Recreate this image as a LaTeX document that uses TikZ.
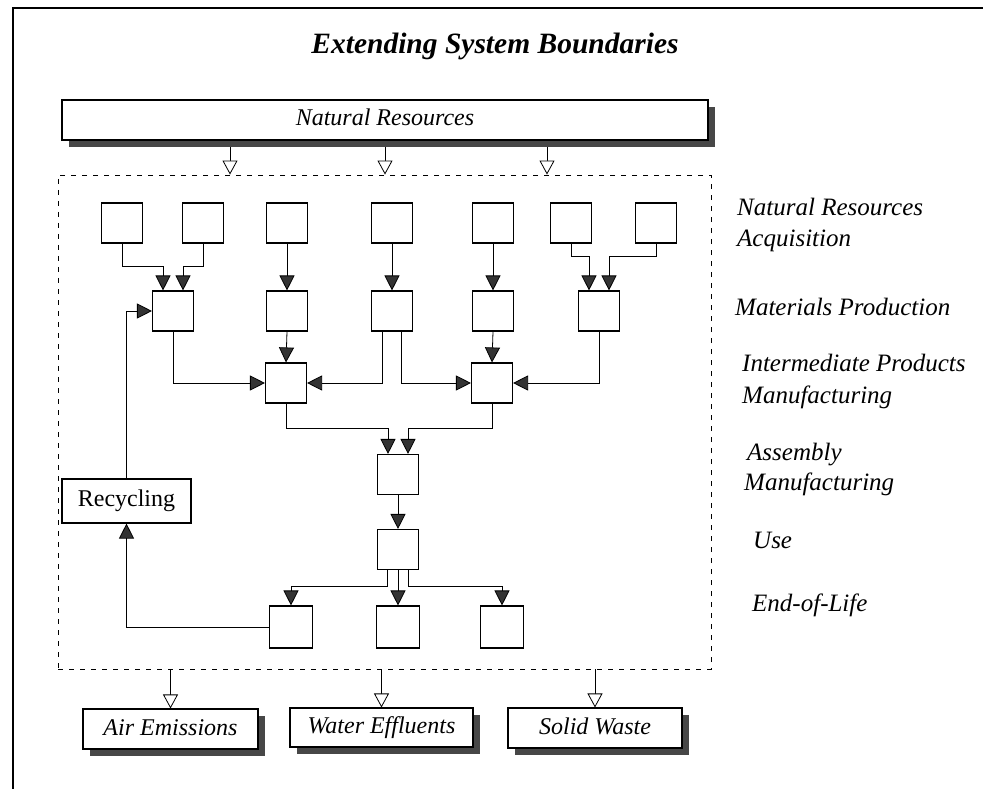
\documentclass[tikz,border=0pt]{standalone}
\usepackage{fontspec}
\setmainfont{Liberation Serif}
\usetikzlibrary{arrows.meta,shadows}
\begin{document}
\begin{tikzpicture}[x=1pt,y=-1pt,
  box/.style={draw, line width=1.1pt, minimum width=41pt, minimum height=40pt, inner sep=0pt, fill=white},
  ebox/.style={box, minimum width=43pt, minimum height=42pt},
  shbox/.style={draw, line width=1.1pt, fill=white, inner sep=0pt, text height=17pt, text depth=5pt,
    font=\fontsize{24}{28}\selectfont\itshape,
    drop shadow={shadow xshift=7pt, shadow yshift=-7pt, opacity=1, fill=black!72}},
  arr/.style={line width=0.8pt, -{Triangle[width=15pt,length=15pt,fill=black!80]}},
  oarr/.style={line width=0.8pt, -{Triangle[open,width=15pt,length=14pt,fill=white]}},
  lab/.style={anchor=base west, inner sep=0pt, font=\fontsize{25}{31}\selectfont\itshape},
]
\useasboundingbox (0,0) rectangle (983,789);
\draw[line width=1.1pt] (13,789) -- (13,8) -- (983,8);

\node[font=\fontsize{29.5}{34}\selectfont\bfseries\itshape, anchor=base, inner sep=0pt] (title) at (495,54) {Extending System Boundaries};

\node[draw, line width=0.9pt, dash pattern=on 5pt off 6pt, minimum width=653pt, minimum height=494pt, inner sep=0pt] (sys) at (384.5,422) {};

\node[shbox, minimum width=646pt, minimum height=40pt] (nr) at (385,120) {Natural Resources};

% row 1
\node[box] (b1) at (122,223) {};
\node[box] (b2) at (203,223) {};
\node[box] (b3) at (287,223) {};
\node[box] (b4) at (392,223) {};
\node[box] (b5) at (493,223) {};
\node[box] (b6) at (571,223) {};
\node[box] (b7) at (656,223) {};
% row 2
\node[box] (m1) at (173,311) {};
\node[box] (m2) at (287,311) {};
\node[box] (m3) at (392,311) {};
\node[box] (m4) at (493,311) {};
\node[box] (m5) at (599,311) {};
% row 3
\node[box] (i1) at (286,383) {};
\node[box] (i2) at (492,383) {};
% assembly, use
\node[box] (a) at (398,474.5) {};
\node[box] (u) at (398,549.5) {};
% end of life
\node[ebox] (e1) at (291,627) {};
\node[ebox] (e2) at (398,627) {};
\node[ebox] (e3) at (502,627) {};

\node[draw, line width=1.1pt, minimum width=129pt, minimum height=44pt, inner sep=0pt, font=\fontsize{24}{28}\selectfont] (rec) at (126.5,501) {Recycling};

% bottom outputs
\node[shbox, minimum width=175pt, minimum height=40pt] (air) at (170.5,729) {Air Emissions};
\node[shbox, minimum width=183pt, minimum height=39pt] (water) at (381.5,727.5) {Water Effluents};
\node[shbox, minimum width=174pt, minimum height=40pt] (solid) at (595,728) {Solid Waste};

% labels
\node[lab] (l1a) at (737,215) {Natural Resources};
\node[lab] (l1b) at (737,246) {Acquisition};
\node[lab] (l2) at (735,315) {Materials Production};
\node[lab] (l3a) at (742,371) {Intermediate Products};
\node[lab] (l3b) at (742,403) {Manufacturing};
\node[lab] (l4a) at (747,460) {Assembly};
\node[lab] (l4b) at (744,490) {Manufacturing};
\node[lab] (l5) at (753,548) {Use};
\node[lab] (l6) at (752,611) {End-of-Life};

% inputs from natural resources
\coordinate (n1) at (230,147);
\coordinate (n2) at (385,147);
\coordinate (n3) at (547,147);
\draw[oarr] (n1) -- (n1 |- sys.north);
\draw[oarr] (n2) -- (n2 |- sys.north);
\draw[oarr] (n3) -- (n3 |- sys.north);

% outputs
\draw[oarr] (sys.south -| air.north) -- (air.north);
\draw[oarr] (sys.south -| water.north) -- (water.north);
\draw[oarr] (sys.south -| solid.north) -- (solid.north);

% acquisition -> materials
\draw[arr] (b1.south) |- ([shift={(-10pt,24pt)}]m1.north) -- ([xshift=-10pt]m1.north);
\draw[arr] (b2.south) |- ([shift={(10pt,24pt)}]m1.north) -- ([xshift=10pt]m1.north);
\draw[arr] (b3.south) -- (m2.north);
\draw[arr] (b4.south) -- (m3.north);
\draw[arr] (b5.south) -- (m4.north);
\draw[arr] (b6.south) |- ([shift={(-10pt,34pt)}]m5.north) -- ([xshift=-10pt]m5.north);
\draw[arr] (b7.south) |- ([shift={(10pt,34pt)}]m5.north) -- ([xshift=10pt]m5.north);

% materials -> intermediate
\draw[arr] (m1.south) |- (i1.west);
\draw[arr] (m2.south) -- (i1.north);
\draw[arr] ([xshift=-10pt]m3.south) |- (i1.east);
\draw[arr] ([xshift=9pt]m3.south) |- (i2.west);
\draw[arr] (m4.south) -- (i2.north);
\draw[arr] (m5.south) |- (i2.east);

% intermediate -> assembly
\draw[arr] (i1.south) |- ([shift={(-10pt,26pt)}]a.north) -- ([xshift=-10pt]a.north);
\draw[arr] (i2.south) |- ([shift={(10pt,26pt)}]a.north) -- ([xshift=10pt]a.north);
\draw[arr] (a.south) -- (u.north);

% use -> end of life
\draw[arr] ([xshift=-11pt]u.south) |- ([yshift=19pt]e1.north) -- (e1.north);
\draw[arr] (u.south) -- (e2.north);
\draw[arr] ([xshift=10pt]u.south) |- ([yshift=19pt]e3.north) -- (e3.north);

% recycling loop
\draw[arr] (e1.west) -| (rec.south);
\draw[arr] (rec.north) |- (m1.west);
\end{tikzpicture}
\end{document}
